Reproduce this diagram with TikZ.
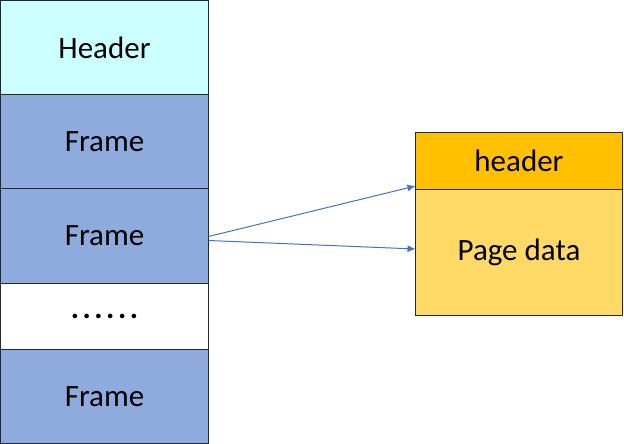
\documentclass[tikz,border=0pt]{standalone}
\usepackage{fontspec}
\setmainfont{Carlito}
\usetikzlibrary{positioning,arrows.meta}
\definecolor{hdrcyan}{HTML}{CCFFFF}
\definecolor{framebl}{HTML}{8FAADC}
\definecolor{pghdr}{HTML}{FFC000}
\definecolor{pgdata}{HTML}{FFD966}
\definecolor{arrbl}{HTML}{4472C4}
\begin{document}
\begin{tikzpicture}[x=1pt,y=-1pt,
  cell/.style={draw=black!85,line width=1pt,minimum width=208pt,inner sep=0pt,outer sep=0pt,
    font=\fontsize{31}{36}\selectfont,anchor=north west},
  link/.style={draw=arrbl,line width=1pt,-{Latex[length=8pt,width=7pt]}}]
  \useasboundingbox (0,0) rectangle (624,444);
  \node[cell,fill=hdrcyan,minimum height=94pt] (hdr) at (0.5,0.5) {Header};
  \node[cell,fill=framebl,minimum height=94pt,below=0pt of hdr.south west,anchor=north west] (f1) {Frame};
  \node[cell,fill=framebl,minimum height=95pt,below=0pt of f1.south west,anchor=north west] (f2) {Frame};
  \node[cell,fill=white,minimum height=66pt,below=0pt of f2.south west,anchor=north west] (dots) {\textbf{.\kern3.5pt.\kern3.5pt.\kern3.5pt.\kern3.5pt.\kern3.5pt.}};
  \node[cell,fill=framebl,minimum height=94pt,below=0pt of dots.south west,anchor=north west] (f3) {Frame};
  \node[cell,fill=pghdr,minimum width=207pt,minimum height=57pt] (ph) at (415.5,132) {header};
  \node[cell,fill=pgdata,minimum width=207pt,minimum height=126pt,below=0pt of ph.south west,anchor=north west] (pd) {Page data};
  \draw[link] ([yshift=-0.5pt]f2.east) -- ([yshift=3pt]ph.south west);
  \draw[link] ([yshift=-4.5pt]f2.east) -- ([yshift=3pt]pd.west);
\end{tikzpicture}
\end{document}
